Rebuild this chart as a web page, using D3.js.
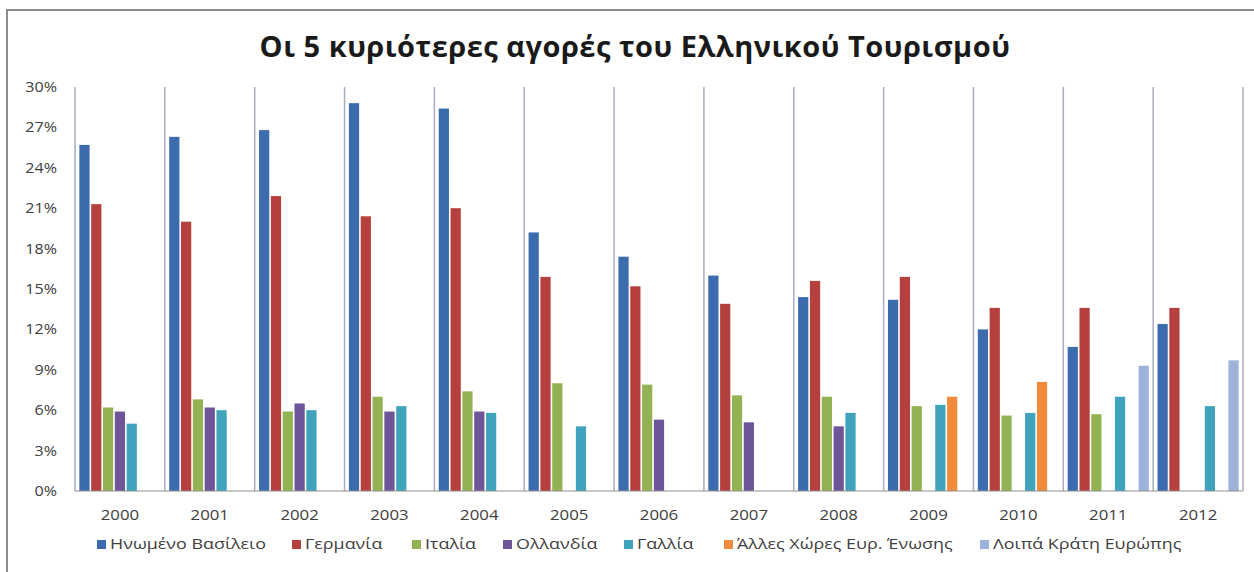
<!DOCTYPE html>
<html>
<head>
<meta charset="utf-8">
<script src="https://cdn.jsdelivr.net/npm/d3@7"></script>
<style>
  body { margin: 0; background: #fff; }
  text { font-family: "Open Sans", "DejaVu Sans", sans-serif; }
</style>
</head>
<body>
<svg id="viz"></svg>
<script>
var width = 1254;
var height = 572;

// categories and series
var years = ["2000", "2001", "2002", "2003", "2004", "2005", "2006", "2007", "2008", "2009", "2010", "2011", "2012"];
var seriesNames = ["Ηνωμένο Βασίλειο", "Γερμανία", "Ιταλία", "Ολλανδία", "Γαλλία", "Άλλες Χώρες Ευρ. Ένωσης", "Λοιπά Κράτη Ευρώπης"];
var seriesColors = ["#3d6cae", "#b5403d", "#93b254", "#6e5597", "#3fa3bc", "#ef8b3b", "#9db2db"];

// percent values per year, null = no bar
var uk          = [25.7, 26.3, 26.8, 28.8, 28.4, 19.2, 17.4, 16.0, 14.4, 14.2, 12.0, 10.7, 12.4];
var germany     = [21.3, 20.0, 21.9, 20.4, 21.0, 15.9, 15.2, 13.9, 15.6, 15.9, 13.6, 13.6, 13.6];
var italy       = [6.2, 6.8, 5.9, 7.0, 7.4, 8.0, 7.9, 7.1, 7.0, 6.3, 5.6, 5.7, null];
var netherlands = [5.9, 6.2, 6.5, 5.9, 5.9, null, 5.3, 5.1, 4.8, null, null, null, null];
var france      = [5.0, 6.0, 6.0, 6.3, 5.8, 4.8, null, null, 5.8, 6.4, 5.8, 7.0, 6.3];
var otherEU     = [null, null, null, null, null, null, null, null, null, 7.0, 8.1, null, null];
var restEurope  = [null, null, null, null, null, null, null, null, null, null, null, 9.3, 9.7];

var yTicks = [0, 3, 6, 9, 12, 15, 18, 21, 24, 27, 30];

var allSeries = [uk, germany, italy, netherlands, france, otherEU, restEurope];

var margin = { left: 75, right: 11, top: 87, bottom: 81 };

var svg = d3.select("#viz").attr("width", width).attr("height", height);

// chart frame (right and bottom edges run off the picture)
svg.append("rect")
    .attr("x", 7).attr("y", 10)
    .attr("width", width + 20).attr("height", height + 20)
    .attr("fill", "#fff")
    .attr("stroke", "#8c8c8c")
    .attr("stroke-width", 2);

svg.append("text")
    .attr("x", 635).attr("y", 57)
    .attr("text-anchor", "middle")
    .style("font-size", "29px")
    .style("font-weight", "bold")
    .style("letter-spacing", "0.5px")
    .style("fill", "#1a1a1a")
    .text("Οι 5 κυριότερες αγορές του Ελληνικού Τουρισμού");

var x0 = d3.scaleBand()
    .domain(years)
    .range([margin.left, width - margin.right])
    .paddingInner(0).paddingOuter(0);

var x1 = d3.scaleBand()
    .domain(d3.range(seriesNames.length))
    .range([0, x0.bandwidth()])
    .paddingOuter(0.3).paddingInner(0);

var y = d3.scaleLinear()
    .domain([0, 30])
    .range([height - margin.bottom, margin.top]);

// vertical category separators
svg.append("g")
    .selectAll("line")
    .data(years.concat(["end"]))
    .enter()
    .append("line")
    .attr("x1", function (d) { return d == "end" ? x0.range()[1] : x0(d); })
    .attr("x2", function (d) { return d == "end" ? x0.range()[1] : x0(d); })
    .attr("y1", y(30))
    .attr("y2", y(0))
    .attr("stroke", "#a9adbd")
    .attr("stroke-width", 1.5);

// bars
var groups = svg.append("g")
    .selectAll("g")
    .data(allSeries)
    .enter()
    .append("g")
    .attr("fill", function (d, i) { return seriesColors[i]; });

groups.each(function (vals, si) {
    d3.select(this).selectAll("rect")
        .data(vals.map(function (v, yi) { return { year: years[yi], v: v }; })
            .filter(function (d) { return d.v != null; }))
        .enter()
        .append("rect")
        .attr("x", function (d) { return x0(d.year) + x1(si) + 0.8; })
        .attr("width", x1.bandwidth() - 1.6)
        .attr("y", function (d) { return y(d.v); })
        .attr("height", function (d) { return y(0) - y(d.v); });
});

// baseline
svg.append("line")
    .attr("x1", x0.range()[0]).attr("x2", x0.range()[1])
    .attr("y1", y(0)).attr("y2", y(0))
    .attr("stroke", "#8f8f8f")
    .attr("stroke-width", 1.2);

// y axis labels, text is a bit stretched like in the original
var yAxis = d3.axisLeft(y)
    .tickValues(yTicks)
    .tickFormat(function (d) { return d + "%"; })
    .tickSize(0)
    .tickPadding(0);

var gy = svg.append("g")
    .attr("transform", "translate(57,0)")
    .call(yAxis);
gy.select(".domain").remove();
gy.selectAll(".tick text")
    .attr("x", 0)
    .attr("transform", "scale(1.15,1)")
    .style("font-size", "14px")
    .style("fill", "#404040")
    .style("font-family", "\"Open Sans\", sans-serif");
gy.selectAll(".tick").each(function () {
    // keep the right edge at the tick origin after scaling
    var t = d3.select(this).select("text");
    t.attr("x", -0.0);
});

// x axis labels
var xAxis = d3.axisBottom(x0).tickSize(0).tickPadding(18);
var gx = svg.append("g")
    .attr("transform", "translate(0," + y(0) + ")")
    .call(xAxis);
gx.select(".domain").remove();
gx.selectAll(".tick text")
    .attr("transform", "scale(1.12,1)")
    .style("font-size", "15px")
    .style("fill", "#404040")
    .style("font-family", "\"Open Sans\", sans-serif");

// legend
var legendX = [97, 292, 412, 503, 624, 724, 980];
var legend = svg.append("g")
    .selectAll("g")
    .data(seriesNames)
    .enter()
    .append("g")
    .attr("transform", function (d, i) { return "translate(" + legendX[i] + ",549)"; });

legend.append("rect")
    .attr("x", 0).attr("y", -9)
    .attr("width", 9).attr("height", 9)
    .attr("fill", function (d, i) { return seriesColors[i]; });

legend.append("text")
    .attr("transform", "translate(13,0) scale(1.28,1)")
    .style("font-size", "14px")
    .style("fill", "#404040")
    .text(function (d) { return d; });
</script>
</body>
</html>
